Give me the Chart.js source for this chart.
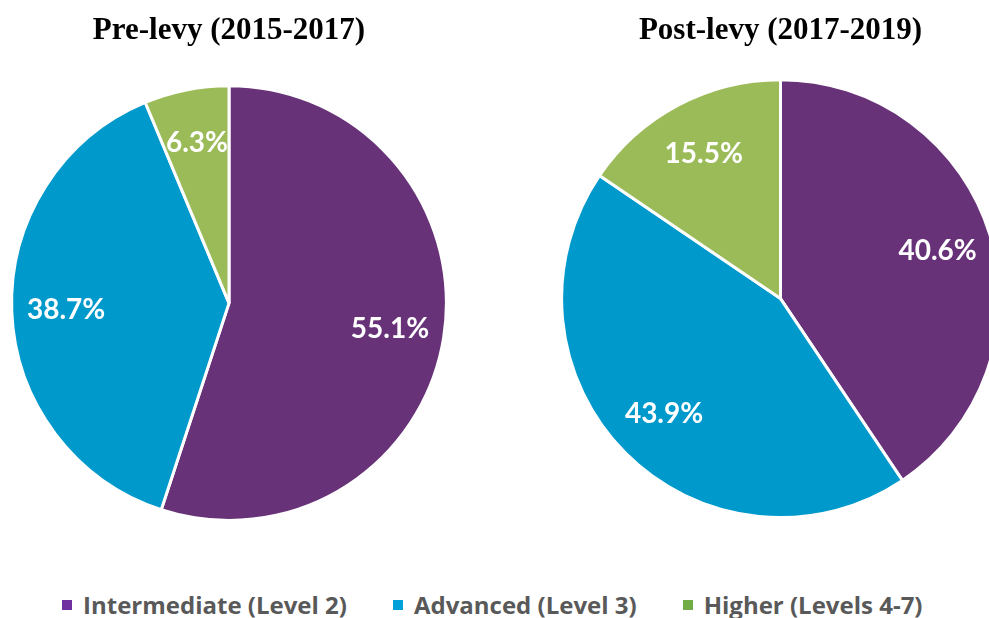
<!DOCTYPE html>
<html>
<head>
<meta charset="utf-8">
<script src="https://cdn.jsdelivr.net/npm/chart.js@4"></script>
<style>
    html, body { margin: 0; padding: 0; background: #fff; overflow: hidden; width: 989px; height: 618px; }
    .chart-1 { position: absolute; left: 0; top: 0; }
    .chart-2 { position: absolute; left: 560px; top: 0; }
    .legend { position: absolute; left: 62px; top: 588px; height: 34px; display: flex; align-items: center;
        font-family: 'Open Sans', sans-serif; font-weight: 700; font-size: 24px; line-height: 34px; color: #595959; white-space: nowrap; }
    .legend span.box { display: inline-block; width: 10px; height: 10px; margin-right: 11px; }
    .legend .item { display: flex; align-items: center; margin-right: 46px; }
</style>
</head>
<body>
<canvas class="chart-1" width="458" height="522"></canvas>
<canvas class="chart-2" width="441" height="519"></canvas>
<div class="legend"></div>

<script>
const categories = ['Intermediate (Level 2)', 'Advanced (Level 3)', 'Higher (Levels 4-7)'];
const preLevy = [55.1, 38.7, 6.3];
const postLevy = [40.6, 43.9, 15.5];
const titles = ['Pre-levy (2015-2017)', 'Post-levy (2017-2019)'];

const sliceColors = ['#673278', '#0099CC', '#9BBB59'];
const legendColors = ['#7030A0', '#00A0D8', '#70AD47'];

// percentages in the slices
const sliceLabels = {
    id: 'sliceLabels',
    afterDatasetsDraw(chart) {
        const ctx = chart.ctx;
        const meta = chart.getDatasetMeta(0);
        const values = chart.data.datasets[0].data;
        ctx.save();
        ctx.fillStyle = '#fff';
        ctx.font = 'bold 28px Lato, sans-serif';
        ctx.textAlign = 'center';
        ctx.textBaseline = 'middle';
        meta.data.forEach((arc, i) => {
            const mid = (arc.startAngle + arc.endAngle) / 2;
            const r = arc.outerRadius * 0.75;
            const x = arc.x + Math.cos(mid) * r;
            const y = arc.y + Math.sin(mid) * r;
            ctx.fillText(values[i].toFixed(1) + '%', x, y);
        });
        ctx.restore();
    }
};

function createPie(canvas, title, data, titleGap, pad) {
    new Chart(canvas, {
        type: 'pie',
        data: {
            labels: categories,
            datasets: [{
                data: data,
                backgroundColor: sliceColors,
                borderColor: '#fff',
                borderWidth: 3
            }]
        },
        options: {
            responsive: false,
            animation: false,
            layout: { padding: pad },
            plugins: {
                legend: { display: false },
                tooltip: { enabled: false },
                title: {
                    display: true,
                    text: title,
                    color: '#000',
                    font: { family: 'Liberation Serif', size: 31, weight: 'bold', lineHeight: 1.2 },
                    padding: { top: 12, bottom: titleGap }
                }
            }
        },
        plugins: [sliceLabels]
    });
}

createPie(document.querySelector('.chart-1'), titles[0], preLevy, 35, { left: 10, right: 10 });
createPie(document.querySelector('.chart-2'), titles[1], postLevy, 29, { left: 0, right: 0 });

const legend = document.querySelector('.legend');
categories.forEach((c, i) => {
    const item = document.createElement('div');
    item.className = 'item';
    item.innerHTML = '<span class="box" style="background:' + legendColors[i] + '"></span>' + c;
    legend.appendChild(item);
});
</script>
</body>
</html>
